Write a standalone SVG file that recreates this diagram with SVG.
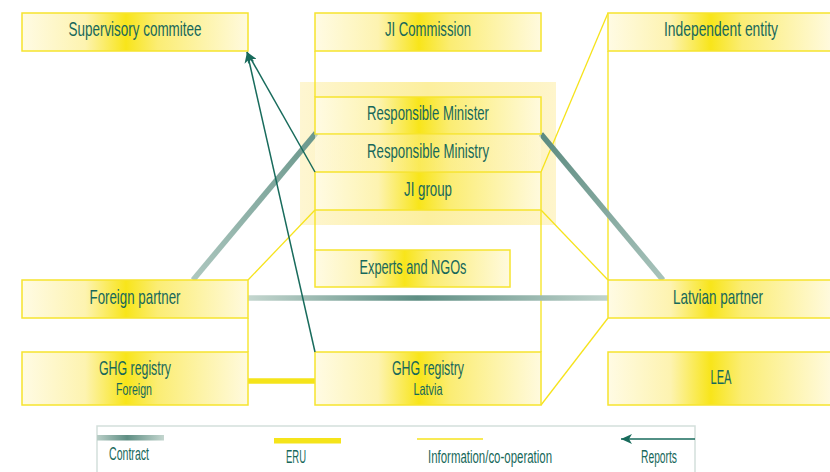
<svg xmlns="http://www.w3.org/2000/svg" width="830" height="472" viewBox="0 0 830 472">
<style>
.box{fill:url(#boxg);stroke:#f6e42e;stroke-width:1.5}
.t{font-family:"Liberation Sans Narrow","Liberation Sans",Arial,sans-serif;fill:#17685a;font-size:21px;text-anchor:middle}
.s{font-size:16.5px}
.lg{font-size:17.5px;text-anchor:start}
.info{stroke:#f6e31c;stroke-width:1.3;fill:none}
.rep{stroke:#186b5c;stroke-width:1.5;fill:none;marker-end:url(#ah)}
.con{stroke-width:5.5;fill:none}
</style>
<defs>
<linearGradient id="boxg" x1="0" y1="0" x2="1" y2="0">
<stop offset="0" stop-color="#fffbe4"/>
<stop offset="0.28" stop-color="#fdf3b0"/>
<stop offset="0.46" stop-color="#f8e51a"/>
<stop offset="0.6" stop-color="#fbed74"/>
<stop offset="1" stop-color="#fffade"/>
</linearGradient>
<linearGradient id="hig" x1="0" y1="0" x2="1" y2="0">
<stop offset="0" stop-color="#fef6d2"/>
<stop offset="0.5" stop-color="#fcef9e"/>
<stop offset="1" stop-color="#fef5cc"/>
</linearGradient>
<linearGradient id="cl" gradientUnits="userSpaceOnUse" x1="193" y1="280" x2="316" y2="133">
<stop offset="0" stop-color="#adc7bf"/>
<stop offset="1" stop-color="#6a978c"/>
</linearGradient>
<linearGradient id="cr" gradientUnits="userSpaceOnUse" x1="541" y1="134" x2="663" y2="280">
<stop offset="0" stop-color="#5c8b80"/>
<stop offset="1" stop-color="#a8c3bb"/>
</linearGradient>
<linearGradient id="ch" gradientUnits="userSpaceOnUse" x1="248" y1="0" x2="608" y2="0">
<stop offset="0" stop-color="#c4d6cf"/>
<stop offset="0.47" stop-color="#5e8e83"/>
<stop offset="1" stop-color="#c0d3cc"/>
</linearGradient>
<linearGradient id="clg" gradientUnits="userSpaceOnUse" x1="97" y1="0" x2="164" y2="0">
<stop offset="0" stop-color="#b9cec7"/>
<stop offset="0.45" stop-color="#5e8e83"/>
<stop offset="1" stop-color="#c4d6cf"/>
</linearGradient>
<marker id="ah" markerWidth="12" markerHeight="10" refX="11" refY="5" orient="auto" markerUnits="userSpaceOnUse">
<path d="M0,0 L11,5 L0,10 L3,5 Z" fill="#186b5c"/>
</marker>
</defs>

<rect id="highlight" x="300" y="82" width="256" height="143" fill="url(#hig)"/>

<g id="connectors">
<line class="info" x1="315" y1="51" x2="315" y2="97"/>
<line class="info" x1="315" y1="210" x2="315" y2="250"/>
<line class="info" x1="541" y1="210" x2="541" y2="352"/>
<line class="info" x1="541" y1="172" x2="608" y2="13"/>
<line class="info" x1="608" y1="51" x2="608" y2="280"/>
<line class="info" x1="315" y1="210" x2="248" y2="280"/>
<line class="info" x1="541" y1="210" x2="608" y2="280"/>
<line class="info" x1="608" y1="318" x2="541" y2="405"/>
<line class="info" x1="248" y1="318" x2="248" y2="352"/>
<line class="con" stroke="url(#cl)" x1="193" y1="280" x2="316" y2="133"/>
<line class="con" stroke="url(#cr)" x1="541" y1="134" x2="663" y2="280"/>
<line class="con" stroke="url(#ch)" x1="248" y1="298" x2="608" y2="298"/>
<line stroke="#f5e41a" stroke-width="5.5" x1="248" y1="381" x2="315" y2="381"/>
</g>

<g id="supervisory"><rect class="box" x="22" y="13" width="226" height="38"/><text class="t" x="135" y="36" textLength="133" lengthAdjust="spacingAndGlyphs">Supervisory commitee</text></g>
<g id="ji-commission"><rect class="box" x="315" y="13" width="226" height="38"/><text class="t" x="428" y="36" textLength="86" lengthAdjust="spacingAndGlyphs">JI Commission</text></g>
<g id="independent"><rect class="box" x="608" y="13" width="223.5" height="38"/><text class="t" x="721" y="36" textLength="114" lengthAdjust="spacingAndGlyphs">Independent entity</text></g>
<g id="minister"><rect class="box" x="315" y="97" width="226" height="37"/><text class="t" x="428" y="120" textLength="122" lengthAdjust="spacingAndGlyphs">Responsible Minister</text></g>
<g id="ministry"><rect x="315" y="134.75" width="226" height="36.5" fill="url(#boxg)" opacity="0.55"/><text class="t" x="428" y="157.5" textLength="122" lengthAdjust="spacingAndGlyphs">Responsible Ministry</text></g>
<g id="ji-group"><rect class="box" x="315" y="172" width="226" height="38"/><text class="t" x="428" y="196" textLength="48" lengthAdjust="spacingAndGlyphs">JI group</text></g>
<g id="experts"><rect class="box" x="315" y="250" width="195" height="37"/><text class="t" x="413" y="273.5" textLength="107" lengthAdjust="spacingAndGlyphs">Experts and NGOs</text></g>
<g id="foreign-partner"><rect class="box" x="22" y="280" width="226" height="38"/><text class="t" x="135" y="304" textLength="91" lengthAdjust="spacingAndGlyphs">Foreign partner</text></g>
<g id="latvian-partner"><rect class="box" x="608" y="280" width="223.5" height="38"/><text class="t" x="718" y="304" textLength="90" lengthAdjust="spacingAndGlyphs">Latvian partner</text></g>
<g id="ghg-foreign"><rect class="box" x="22" y="352" width="226" height="53"/><text class="t" x="135" y="375" textLength="72" lengthAdjust="spacingAndGlyphs">GHG registry</text><text class="t s" x="134" y="395" textLength="36" lengthAdjust="spacingAndGlyphs">Foreign</text></g>
<g id="ghg-latvia"><rect class="box" x="315" y="352" width="226" height="53"/><text class="t" x="428" y="375" textLength="72" lengthAdjust="spacingAndGlyphs">GHG registry</text><text class="t s" x="428" y="395" textLength="29" lengthAdjust="spacingAndGlyphs">Latvia</text></g>
<g id="lea"><rect class="box" x="608" y="352" width="223.5" height="53"/><text class="t" x="721" y="384" textLength="21" lengthAdjust="spacingAndGlyphs">LEA</text></g>

<g id="reports">
<line class="rep" x1="315" y1="172" x2="247" y2="52"/>
<line class="rep" x1="315" y1="352" x2="247" y2="52"/>
</g>

<g id="legend">
<rect x="97" y="426" width="598" height="60" fill="none" stroke="#d3dfdb" stroke-width="1.5"/>
<rect x="97" y="435" width="67" height="5.5" fill="url(#clg)"/>
<text class="t lg" x="109" y="459.5" textLength="40" lengthAdjust="spacingAndGlyphs">Contract</text>
<rect x="274" y="438" width="67" height="5.5" fill="#f5e41a"/>
<text class="t lg" x="286" y="463" textLength="20" lengthAdjust="spacingAndGlyphs">ERU</text>
<line class="info" x1="417" y1="439" x2="483" y2="439"/>
<text class="t lg" x="428" y="462.5" textLength="124" lengthAdjust="spacingAndGlyphs">Information/co-operation</text>
<line class="rep" x1="695" y1="439" x2="621" y2="439"/>
<text class="t lg" x="641" y="462.5" textLength="36" lengthAdjust="spacingAndGlyphs">Reports</text>
</g>
</svg>
